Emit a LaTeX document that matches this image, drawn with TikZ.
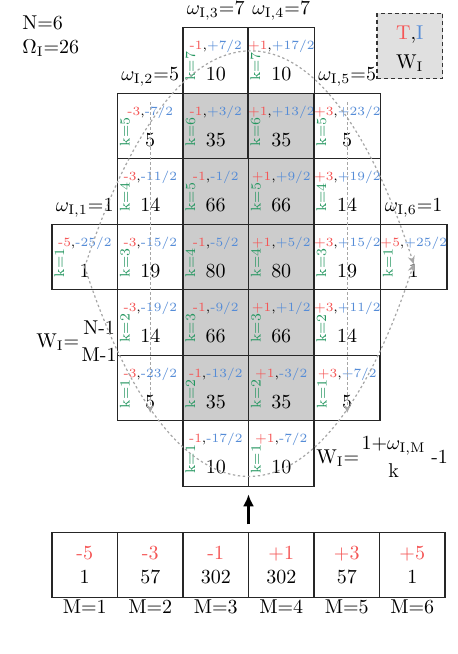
\documentclass[tikz,border=0pt]{standalone}
\usepackage{amsmath}
\usepackage{tikz}
\usetikzlibrary{arrows.meta,positioning}
\definecolor{rojo}{RGB}{245,85,85}
\definecolor{azul}{RGB}{85,140,215}
\definecolor{verde}{RGB}{35,150,95}
\newcommand{\parTI}[2]{{\fontsize{6.3}{7.5}\selectfont\textcolor{rojo}{#1},\textcolor{azul}{#2}}}
\tikzset{
  celda/.style={
    draw=black!85,
    line width=.6pt,
    fill=white,
    minimum size=32.75pt,
    inner sep=0pt,
    outer sep=0pt,
    align=center
  },
  lleno/.style={
    celda,
    fill=black!20
  },
  kk/.style={
    rotate=90,
    anchor=north,
    inner sep=1pt,
    text=verde,
    font=\scriptsize
  },
  leyenda/.style={
    draw=black!80,
    line width=.6pt,
    dash pattern=on 2pt off 1.5pt,
    fill=black!12,
    minimum size=32.75pt,
    inner sep=0pt,
    align=center
  },
  flujo/.style={
    -{Stealth[length=4pt,width=3.5pt]},
    line width=.6pt,
    dash pattern=on 1.2pt off 1.3pt,
    black!35
  },
  flecha/.style={
    -{Latex[length=6pt,width=5.5pt]},
    line width=1.6pt,
    shorten <=4pt,
    shorten >=4pt
  }
}

\begin{document}
\begin{tikzpicture}[node distance=0pt]
\useasboundingbox (-42.375pt,128.5pt) rectangle (186.625pt,-198.5pt);
% fila central
\node[celda,label={[kk]190:k=1},label={above:$\omega_{\mathrm{I},1}$=1}] (c1k1) at (0,0) {\parTI{-5}{-25/2}\\[3.5pt]1};
\node[celda,right=of c1k1,label={[kk]190:k=3}] (c2k3) {\parTI{-3}{-15/2}\\[3.5pt]19};
\node[lleno,right=of c2k3,label={[kk]190:k=4}] (c3k4) {\parTI{-1}{-5/2}\\[3.5pt]80};
\node[lleno,right=of c3k4,label={[kk]190:k=4}] (c4k4) {\parTI{+1}{+5/2}\\[3.5pt]80};
\node[celda,right=of c4k4,label={[kk]190:k=3}] (c5k3) {\parTI{+3}{+15/2}\\[3.5pt]19};
\node[celda,right=of c5k3,label={[kk]190:k=1},label={above:$\omega_{\mathrm{I},6}$=1}] (c6k1) {\parTI{+5}{+25/2}\\[3.5pt]1};
% M=2
\node[celda,above=of c2k3,label={[kk]190:k=4}] (c2k4) {\parTI{-3}{-11/2}\\[3.5pt]14};
\node[celda,above=of c2k4,label={[kk]190:k=5},label={above:$\omega_{\mathrm{I},2}$=5}] (c2k5) {\parTI{-3}{-7/2}\\[3.5pt]5};
\node[celda,below=of c2k3,label={[kk]190:k=2}] (c2k2) {\parTI{-3}{-19/2}\\[3.5pt]14};
\node[celda,below=of c2k2,label={[kk]190:k=1}] (c2k1) {\parTI{-3}{-23/2}\\[3.5pt]5};
% M=3
\node[lleno,above=of c3k4,label={[kk]190:k=5}] (c3k5) {\parTI{-1}{-1/2}\\[3.5pt]66};
\node[lleno,above=of c3k5,label={[kk]190:k=6}] (c3k6) {\parTI{-1}{+3/2}\\[3.5pt]35};
\node[celda,above=of c3k6,label={[kk]190:k=7},label={above:$\omega_{\mathrm{I},3}$=7}] (c3k7) {\parTI{-1}{+7/2}\\[3.5pt]10};
\node[lleno,below=of c3k4,label={[kk]190:k=3}] (c3k3) {\parTI{-1}{-9/2}\\[3.5pt]66};
\node[lleno,below=of c3k3,label={[kk]190:k=2}] (c3k2) {\parTI{-1}{-13/2}\\[3.5pt]35};
\node[celda,below=of c3k2,label={[kk]190:k=1}] (c3k1) {\parTI{-1}{-17/2}\\[3.5pt]10};
% M=4
\node[lleno,above=of c4k4,label={[kk]190:k=5}] (c4k5) {\parTI{+1}{+9/2}\\[3.5pt]66};
\node[lleno,above=of c4k5,label={[kk]190:k=6}] (c4k6) {\parTI{+1}{+13/2}\\[3.5pt]35};
\node[celda,above=of c4k6,label={[kk]190:k=7},label={above:$\omega_{\mathrm{I},4}$=7}] (c4k7) {\parTI{+1}{+17/2}\\[3.5pt]10};
\node[lleno,below=of c4k4,label={[kk]190:k=3}] (c4k3) {\parTI{+1}{+1/2}\\[3.5pt]66};
\node[lleno,below=of c4k3,label={[kk]190:k=2}] (c4k2) {\parTI{+1}{-3/2}\\[3.5pt]35};
\node[celda,below=of c4k2,label={[kk]190:k=1}] (c4k1) {\parTI{+1}{-7/2}\\[3.5pt]10};
% M=5
\node[celda,above=of c5k3,label={[kk]190:k=4}] (c5k4) {\parTI{+3}{+19/2}\\[3.5pt]14};
\node[celda,above=of c5k4,label={[kk]190:k=5},label={above:$\omega_{\mathrm{I},5}$=5}] (c5k5) {\parTI{+3}{+23/2}\\[3.5pt]5};
\node[celda,below=of c5k3,label={[kk]190:k=2}] (c5k2) {\parTI{+3}{+11/2}\\[3.5pt]14};
\node[celda,below=of c5k2,label={[kk]190:k=1}] (c5k1) {\parTI{+3}{+7/2}\\[3.5pt]5};
% fila de abajo
\node[celda,below=23pt of c3k1,label={[inner sep=1pt]below:M=3}] (m3) {\textcolor{rojo}{-1}\\302};
\node[celda,left=of m3,label={[inner sep=1pt]below:M=2}] (m2) {\textcolor{rojo}{-3}\\57};
\node[celda,left=of m2,label={[inner sep=1pt]below:M=1}] (m1) {\textcolor{rojo}{-5}\\1};
\node[celda,right=of m3,label={[inner sep=1pt]below:M=4}] (m4) {\textcolor{rojo}{+1}\\302};
\node[celda,right=of m4,label={[inner sep=1pt]below:M=5}] (m5) {\textcolor{rojo}{+3}\\57};
\node[celda,right=of m5,label={[inner sep=1pt]below:M=6}] (m6) {\textcolor{rojo}{+5}\\1};
\node[align=left,anchor=north west,inner sep=0pt] (datos) at (-31.4pt,121pt) {N=6\\$\Omega_{\mathrm{I}}$=26};
\node[leyenda,above right=7pt and -2pt of c5k5.north east] (ley) {\rule{0pt}{9.6pt}\textcolor{rojo}{T},\textcolor{azul}{I}\\[2.5pt]W$_{\mathrm{I}}$};
\node[anchor=west,inner sep=0pt] (wizq) at (-24.4pt,-42pt) {$\mathrm{W_I}{=}\genfrac{}{}{0pt}{0}{\text{N-1}}{\text{M-1}}$};
\node[anchor=west,inner sep=0pt] (wder) at (115.6pt,-100pt) {$\mathrm{W_I}{=}\genfrac{}{}{0pt}{0}{1{+}\omega_{\mathrm{I,M}}}{\mathrm{k}}\,\text{-1}$};
\draw[flujo] ([yshift=-5pt]c1k1.center) to[out=72,in=108,looseness=2.33] ([yshift=-3.5pt]c6k1.center);
\draw[flujo] ([yshift=-5pt]c1k1.center) to[out=-72,in=-108,looseness=2.29] ([yshift=-3.5pt]c6k1.center);
\draw[flujo] ([yshift=-4.5pt]c2k5.north) -- ([yshift=4pt]c2k1.south);
\draw[flujo] ([yshift=-4.5pt]c5k5.north) -- ([yshift=4pt]c5k1.south);
\draw[flecha] (m3.north east) -- (c3k1.south east);
\end{tikzpicture}
\end{document}
